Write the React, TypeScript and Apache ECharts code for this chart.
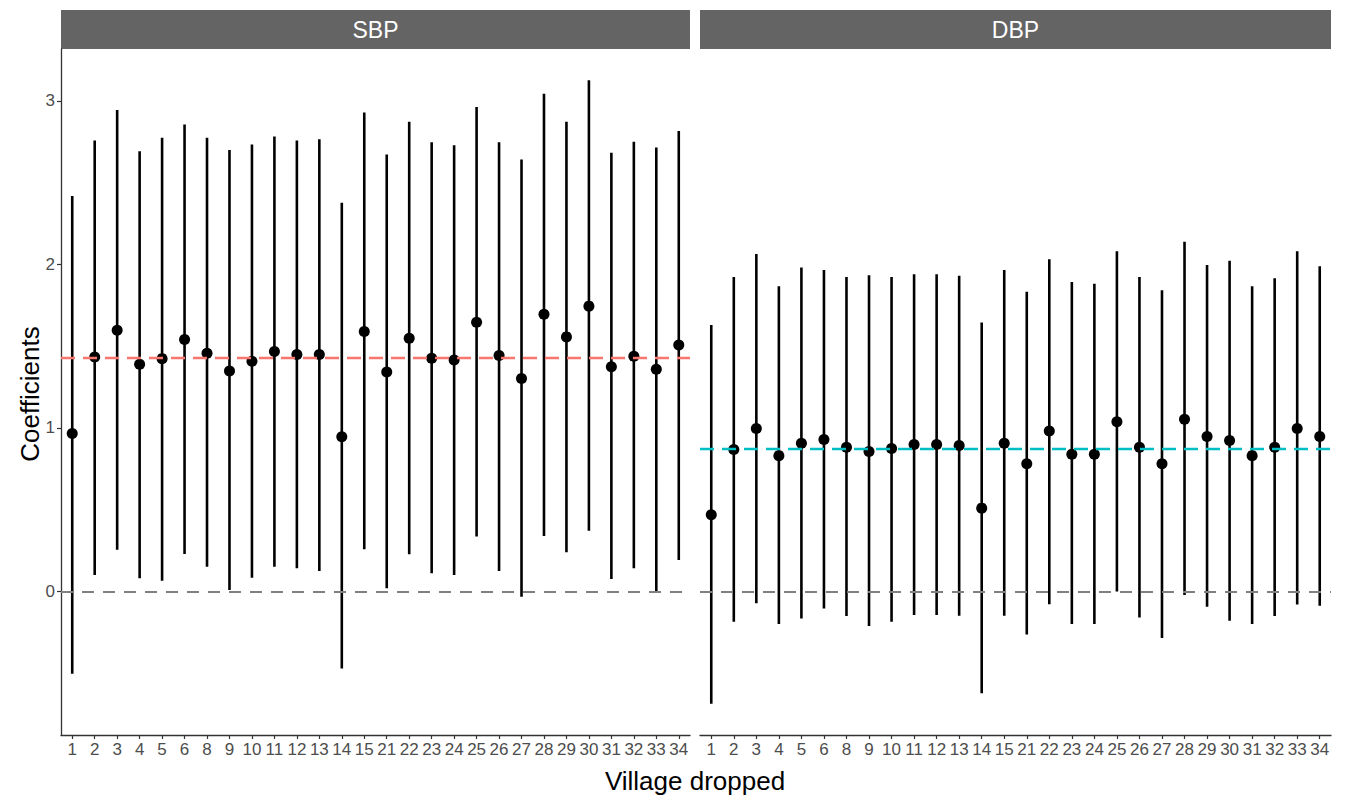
import React, { useEffect, useRef } from "react";
import * as echarts from "echarts";

const villages = ["1","2","3","4","5","6","8","9","10","11","12","13","14","15","21","22","23","24","25","26","27","28","29","30","31","32","33","34"];

const sbpEst = [0.966,1.434,1.598,1.39,1.424,1.541,1.457,1.349,1.408,1.467,1.449,1.449,0.946,1.59,1.342,1.549,1.426,1.416,1.647,1.443,1.302,1.696,1.557,1.745,1.375,1.439,1.359,1.508];
const sbpLow = [-0.502,0.101,0.255,0.081,0.066,0.23,0.152,0.009,0.085,0.152,0.142,0.126,-0.471,0.259,0.02,0.228,0.112,0.101,0.336,0.126,-0.032,0.34,0.24,0.371,0.077,0.142,0.0,0.193];
const sbpHigh = [2.418,2.758,2.944,2.692,2.774,2.856,2.774,2.70,2.733,2.782,2.758,2.766,2.377,2.929,2.672,2.872,2.747,2.729,2.962,2.747,2.641,3.044,2.872,3.126,2.682,2.75,2.715,2.815];

const dbpEst = [0.469,0.868,0.997,0.831,0.907,0.929,0.882,0.856,0.874,0.899,0.899,0.893,0.51,0.907,0.782,0.981,0.839,0.839,1.038,0.882,0.782,1.054,0.948,0.923,0.831,0.882,0.997,0.948];
const dbpLow = [-0.686,-0.185,-0.072,-0.199,-0.164,-0.103,-0.15,-0.21,-0.185,-0.144,-0.144,-0.148,-0.621,-0.148,-0.263,-0.077,-0.199,-0.199,0.0,-0.158,-0.284,-0.021,-0.093,-0.179,-0.199,-0.15,-0.079,-0.087];
const dbpHigh = [1.629,1.923,2.064,1.866,1.981,1.966,1.923,1.934,1.923,1.94,1.94,1.931,1.645,1.966,1.833,2.032,1.893,1.882,2.081,1.923,1.842,2.138,1.997,2.022,1.866,1.915,2.081,1.989];

const panels = ["SBP", "DBP"];
const refValues = [1.434, 0.874];
const refColors = ["#F8766D", "#00BFC4"];
const yTicks = [0, 1, 2, 3];
const yMin = -0.877;
const yMax = 3.317;

const FONT = "Liberation Sans, Arial, sans-serif";

export default function App() {
  const ref = useRef<HTMLDivElement>(null);
  useEffect(() => {
    if (!ref.current) return;
    const chart = echarts.init(ref.current, null, { renderer: "svg" });
    const grids = [
      { left: 61, top: 49, width: 629, height: 686 },
      { left: 700, top: 49, width: 631, height: 686 },
    ];
    const ests = [sbpEst, dbpEst];
    const lows = [sbpLow, dbpLow];
    const highs = [sbpHigh, dbpHigh];

    const xAxes = grids.map((_, i) => ({
      type: "category",
      gridIndex: i,
      data: villages,
      boundaryGap: true,
      axisLine: { show: true, onZero: false, lineStyle: { color: "#333333", width: 1.3 } },
      axisTick: { show: true, alignWithLabel: true, length: 4, lineStyle: { color: "#333333", width: 1.2 } },
      axisLabel: { interval: 0, color: "#4D4D4D", fontSize: 17, fontFamily: FONT, margin: 6, hideOverlap: false },
      splitLine: { show: false },
    }));
    const yAxes = grids.map((_, i) => ({
      type: "value",
      gridIndex: i,
      min: yMin,
      max: yMax,
      axisLine: { show: i === 0, lineStyle: { color: "#333333", width: 1.3 } },
      axisTick: { show: i === 0, length: 4, customValues: yTicks, lineStyle: { color: "#333333", width: 1.2 } },
      axisLabel: { show: i === 0, customValues: yTicks, color: "#4D4D4D", fontSize: 17, fontFamily: FONT, margin: 6 },
      splitLine: { show: false },
    }));

    const series: any[] = [];
    grids.forEach((_, i) => {
      series.push({
        type: "line",
        xAxisIndex: i,
        yAxisIndex: i,
        data: [],
        z: 1,
        silent: true,
        markLine: {
          silent: true,
          symbol: "none",
          label: { show: false },
          animation: false,
          data: [
            { yAxis: 0, lineStyle: { color: "#808080", width: 2.2, type: [12, 9] } },
            { yAxis: refValues[i], lineStyle: { color: refColors[i], width: 2.4, type: [14, 8] } },
          ],
        },
      });
      series.push({
        type: "custom",
        xAxisIndex: i,
        yAxisIndex: i,
        z: 3,
        encode: { x: 0, y: [1, 2] },
        data: villages.map((_, k) => [k, lows[i][k], highs[i][k]]),
        renderItem: (params: any, api: any) => {
          const x = api.value(0);
          const lo = api.coord([x, api.value(1)]);
          const hi = api.coord([x, api.value(2)]);
          return {
            type: "line",
            shape: { x1: lo[0], y1: lo[1], x2: hi[0], y2: hi[1] },
            style: { stroke: "#000000", lineWidth: 2.6 },
          };
        },
      });
      series.push({
        type: "scatter",
        xAxisIndex: i,
        yAxisIndex: i,
        z: 4,
        symbol: "circle",
        symbolSize: 11,
        itemStyle: { color: "#000000", opacity: 1 },
        data: villages.map((v, k) => [v, ests[i][k]]),
      });
    });

    const graphics: any[] = [];
    grids.forEach((g, i) => {
      graphics.push({
        type: "rect",
        shape: { x: g.left, y: 10, width: g.width, height: 39 },
        style: { fill: "#646464" },
      });
      graphics.push({
        type: "text",
        x: g.left + g.width / 2,
        y: 30,
        style: { text: panels[i], fill: "#ffffff", fontSize: 23, fontFamily: FONT, align: "center", verticalAlign: "middle" },
      });
    });
    graphics.push({
      type: "text",
      x: 695,
      y: 781,
      style: { text: "Village dropped", fill: "#000000", fontSize: 26, fontFamily: FONT, align: "center", verticalAlign: "middle" },
    });
    graphics.push({
      type: "text",
      x: 30,
      y: 394,
      rotation: Math.PI / 2,
      style: { text: "Coefficients", fill: "#000000", fontSize: 26, fontFamily: FONT, align: "center", verticalAlign: "middle" },
    });

    chart.setOption({
      animation: false,
      backgroundColor: "#ffffff",
      grid: grids,
      xAxis: xAxes,
      yAxis: yAxes,
      series,
      graphic: graphics,
    });
    return () => chart.dispose();
  }, []);
  return (
    <div
      ref={ref}
      style={{ position: "fixed", left: 0, top: 0, width: 1345, height: 799, background: "#fff" }}
    />
  );
}
